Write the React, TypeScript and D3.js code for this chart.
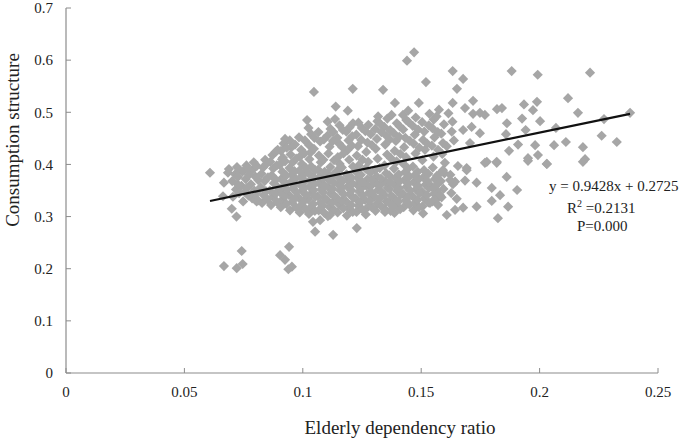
import * as d3 from 'd3';

// --- Data ---
const xTicks = [0, 0.05, 0.1, 0.15, 0.2, 0.25];
const yTicks = [0, 0.1, 0.2, 0.3, 0.4, 0.5, 0.6, 0.7];
const xTickLabels = ['0', '0.05', '0.1', '0.15', '0.2', '0.25'];
const yTickLabels = ['0', '0.1', '0.2', '0.3', '0.4', '0.5', '0.6', '0.7'];

const trendSlope = 0.9428;
const trendIntercept = 0.2725;
const trendRange = [0.0608, 0.2382];
const fitLines = ['y = 0.9428x + 0.2725', '=0.2131', 'P=0.000'];

const lowOutliers: [number, number][] = [
  [0.0667, 0.205], [0.0721, 0.201], [0.0746, 0.209], [0.0742, 0.234], [0.0904, 0.226],
  [0.0942, 0.242], [0.0925, 0.217], [0.0939, 0.199], [0.0954, 0.204],
];

const lowerEdge: [number, number][] = [
  [0.0608, 0.384], [0.0667, 0.365], [0.0684, 0.384], [0.0663, 0.339], [0.070, 0.315],
  [0.072, 0.300], [0.0688, 0.391], [0.0726, 0.376], [0.0805, 0.329], [0.1043, 0.290],
  [0.1052, 0.271], [0.1128, 0.265], [0.1228, 0.278], [0.1115, 0.303], [0.1073, 0.293],
  [0.1347, 0.309], [0.1381, 0.319], [0.1508, 0.306], [0.1537, 0.326],
];

const upperSpread: [number, number][] = [
  [0.147, 0.615], [0.144, 0.599], [0.152, 0.558], [0.1047, 0.539], [0.1211, 0.545],
  [0.1339, 0.543], [0.1389, 0.518], [0.149, 0.518], [0.1139, 0.511], [0.119, 0.503],
  [0.1018, 0.485], [0.1318, 0.492], [0.1375, 0.495], [0.1423, 0.495], [0.1212, 0.479],
  [0.1105, 0.482], [0.1136, 0.487], [0.0925, 0.449], [0.0894, 0.428], [0.0912, 0.410],
  [0.1445, 0.503], [0.1535, 0.497], [0.1575, 0.505], [0.1615, 0.498],
];

const rightTail: [number, number][] = [
  [0.1633, 0.579], [0.1882, 0.579], [0.1992, 0.572], [0.2213, 0.576], [0.1677, 0.564],
  [0.1651, 0.545], [0.1719, 0.522], [0.1633, 0.518], [0.212, 0.527], [0.1989, 0.520],
  [0.1934, 0.515], [0.1972, 0.504], [0.2162, 0.499], [0.2382, 0.499], [0.2272, 0.487],
  [0.182, 0.506], [0.1841, 0.508], [0.1862, 0.479], [0.1926, 0.488], [0.2002, 0.483],
  [0.2069, 0.470], [0.1941, 0.466], [0.1858, 0.458], [0.2262, 0.455], [0.2326, 0.443],
  [0.2111, 0.443], [0.2061, 0.437], [0.1981, 0.437], [0.1909, 0.438], [0.2183, 0.433],
  [0.1871, 0.426], [0.2192, 0.410], [0.1993, 0.418], [0.1951, 0.412], [0.2031, 0.401],
  [0.1819, 0.405], [0.1777, 0.405], [0.1861, 0.376], [0.1692, 0.393], [0.1655, 0.397],
  [0.1706, 0.441], [0.1748, 0.460], [0.1713, 0.472], [0.1677, 0.466], [0.1685, 0.508],
  [0.1748, 0.499], [0.1769, 0.495], [0.1719, 0.497], [0.1608, 0.435], [0.1571, 0.428],
  [0.160, 0.403], [0.1587, 0.386], [0.1692, 0.389], [0.1592, 0.389], [0.1734, 0.365],
  [0.1685, 0.369], [0.1643, 0.367], [0.1622, 0.370], [0.1798, 0.355], [0.1905, 0.351],
  [0.1833, 0.341], [0.1798, 0.330], [0.1867, 0.319], [0.1734, 0.319], [0.1677, 0.317],
  [0.1643, 0.313], [0.1608, 0.303], [0.1824, 0.297], [0.165, 0.334], [0.1579, 0.341],
  [0.1571, 0.322], [0.1558, 0.357], [0.1769, 0.403], [0.1819, 0.403], [0.1951, 0.407],
  [0.203, 0.401], [0.2183, 0.405],
];

const coreCluster: [number, number][] = [
  [0.0705, 0.338], [0.0718, 0.352], [0.0702, 0.368], [0.0714, 0.381], [0.0722, 0.395],
  [0.0748, 0.329], [0.0756, 0.347], [0.0741, 0.359], [0.0759, 0.372], [0.0745, 0.386], [0.0762, 0.398],
  [0.0786, 0.335], [0.0795, 0.350], [0.0781, 0.362], [0.0799, 0.377], [0.0788, 0.390], [0.0793, 0.404],
  [0.0828, 0.326], [0.0835, 0.341], [0.0822, 0.356], [0.0839, 0.368], [0.0826, 0.382], [0.0832, 0.394], [0.0841, 0.409],
  [0.0866, 0.322], [0.0874, 0.338], [0.0861, 0.350], [0.0878, 0.364], [0.0869, 0.379], [0.0875, 0.392], [0.0863, 0.405], [0.0872, 0.418],
  [0.0907, 0.318], [0.0915, 0.333], [0.0903, 0.347], [0.0918, 0.358], [0.0909, 0.372], [0.0914, 0.386], [0.0902, 0.399], [0.0916, 0.413], [0.0908, 0.426], [0.0919, 0.440],
  [0.0946, 0.312], [0.0955, 0.328], [0.0942, 0.341], [0.0958, 0.354], [0.0949, 0.366], [0.0953, 0.380], [0.0944, 0.393], [0.0957, 0.404], [0.0948, 0.419], [0.0952, 0.433], [0.0945, 0.446],
  [0.0987, 0.308], [0.0994, 0.322], [0.0983, 0.336], [0.0998, 0.349], [0.0989, 0.361], [0.0992, 0.375], [0.0985, 0.388], [0.0996, 0.401], [0.0988, 0.415], [0.0993, 0.428], [0.0984, 0.452],
  [0.1026, 0.305], [0.1034, 0.318], [0.1023, 0.333], [0.1038, 0.345], [0.1029, 0.357], [0.1032, 0.370], [0.1025, 0.383], [0.1036, 0.396], [0.1028, 0.410], [0.1033, 0.423], [0.1027, 0.437], [0.1035, 0.458], [0.1024, 0.470],
  [0.1067, 0.312], [0.1074, 0.326], [0.1063, 0.339], [0.1078, 0.352], [0.1069, 0.364], [0.1072, 0.377], [0.1065, 0.390], [0.1076, 0.404], [0.1068, 0.417], [0.1073, 0.444], [0.1066, 0.462],
  [0.1106, 0.301], [0.1114, 0.318], [0.1103, 0.331], [0.1118, 0.344], [0.1109, 0.356], [0.1112, 0.369], [0.1105, 0.382], [0.1116, 0.395], [0.1108, 0.421], [0.1113, 0.434], [0.1104, 0.455], [0.1117, 0.468],
  [0.1147, 0.308], [0.1154, 0.323], [0.1143, 0.336], [0.1158, 0.350], [0.1149, 0.362], [0.1152, 0.375], [0.1145, 0.388], [0.1156, 0.401], [0.1148, 0.414], [0.1153, 0.440], [0.1146, 0.451], [0.1155, 0.475],
  [0.1186, 0.302], [0.1194, 0.316], [0.1183, 0.329], [0.1198, 0.343], [0.1189, 0.357], [0.1192, 0.369], [0.1185, 0.381], [0.1196, 0.409], [0.1188, 0.427], [0.1193, 0.446], [0.1184, 0.463], [0.1197, 0.471],
  [0.1227, 0.309], [0.1234, 0.321], [0.1223, 0.335], [0.1238, 0.348], [0.1229, 0.361], [0.1232, 0.374], [0.1225, 0.386], [0.1236, 0.398], [0.1228, 0.417], [0.1233, 0.435], [0.1226, 0.457], [0.1235, 0.480],
  [0.1266, 0.304], [0.1274, 0.318], [0.1263, 0.332], [0.1278, 0.345], [0.1269, 0.359], [0.1272, 0.371], [0.1265, 0.392], [0.1276, 0.405], [0.1268, 0.424], [0.1273, 0.442], [0.1264, 0.464], [0.1277, 0.476],
  [0.1307, 0.311], [0.1314, 0.325], [0.1303, 0.338], [0.1318, 0.351], [0.1309, 0.364], [0.1312, 0.377], [0.1305, 0.389], [0.1316, 0.411], [0.1308, 0.430], [0.1313, 0.449], [0.1306, 0.468], [0.1315, 0.483],
  [0.1346, 0.315], [0.1354, 0.329], [0.1343, 0.342], [0.1358, 0.355], [0.1349, 0.367], [0.1352, 0.383], [0.1345, 0.398], [0.1356, 0.419], [0.1348, 0.438], [0.1353, 0.455], [0.1344, 0.472], [0.1357, 0.488],
  [0.1387, 0.307], [0.1394, 0.322], [0.1383, 0.336], [0.1398, 0.349], [0.1389, 0.361], [0.1392, 0.374], [0.1385, 0.392], [0.1396, 0.406], [0.1388, 0.426], [0.1393, 0.445], [0.1384, 0.460], [0.1397, 0.479],
  [0.1426, 0.318], [0.1434, 0.331], [0.1423, 0.344], [0.1438, 0.357], [0.1429, 0.370], [0.1432, 0.385], [0.1425, 0.401], [0.1436, 0.414], [0.1428, 0.433], [0.1433, 0.451], [0.1424, 0.467], [0.1437, 0.485],
  [0.1467, 0.312], [0.1474, 0.326], [0.1463, 0.339], [0.1478, 0.352], [0.1469, 0.366], [0.1472, 0.379], [0.1465, 0.396], [0.1476, 0.421], [0.1468, 0.440], [0.1473, 0.457], [0.1464, 0.474], [0.1477, 0.490],
  [0.1506, 0.320], [0.1514, 0.335], [0.1503, 0.348], [0.1518, 0.361], [0.1509, 0.375], [0.1512, 0.389], [0.1505, 0.408], [0.1516, 0.428], [0.1508, 0.447], [0.1513, 0.463], [0.1504, 0.481],
  [0.1547, 0.329], [0.1554, 0.344], [0.1543, 0.358], [0.1558, 0.372], [0.1549, 0.394], [0.1552, 0.415], [0.1545, 0.436], [0.1556, 0.452], [0.1548, 0.469], [0.1553, 0.486],
  [0.1586, 0.337], [0.1594, 0.353], [0.1583, 0.368], [0.1598, 0.383], [0.1589, 0.420], [0.1592, 0.441], [0.1585, 0.459], [0.1596, 0.477],
  [0.1627, 0.345], [0.1634, 0.362], [0.1623, 0.380], [0.1638, 0.446], [0.1629, 0.463], [0.1632, 0.482],
];

// points packed between the core columns, where the reference is solid grey
const denseBand: [number, number][] = [
  [0.0731, 0.345], [0.0725, 0.362], [0.0733, 0.389],
  [0.0771, 0.340], [0.0764, 0.355], [0.0772, 0.380], [0.0766, 0.393],
  [0.0811, 0.331], [0.0804, 0.345], [0.0812, 0.370], [0.0806, 0.397],
  [0.0851, 0.333], [0.0844, 0.349], [0.0853, 0.375], [0.0846, 0.401],
  [0.0891, 0.328], [0.0884, 0.344], [0.0893, 0.357], [0.0886, 0.371], [0.0890, 0.398], [0.0885, 0.424],
  [0.0931, 0.324], [0.0924, 0.339], [0.0933, 0.352], [0.0926, 0.365], [0.0930, 0.379], [0.0925, 0.406], [0.0932, 0.432],
  [0.0971, 0.318], [0.0964, 0.334], [0.0973, 0.347], [0.0966, 0.360], [0.0970, 0.373], [0.0965, 0.387], [0.0972, 0.411], [0.0967, 0.438],
  [0.1011, 0.315], [0.1004, 0.329], [0.1013, 0.342], [0.1006, 0.355], [0.1010, 0.368], [0.1005, 0.381], [0.1012, 0.394], [0.1007, 0.421], [0.1009, 0.446],
  [0.1051, 0.311], [0.1044, 0.324], [0.1053, 0.338], [0.1046, 0.351], [0.1050, 0.363], [0.1045, 0.376], [0.1052, 0.389], [0.1047, 0.430], [0.1049, 0.451],
  [0.1091, 0.307], [0.1084, 0.321], [0.1093, 0.335], [0.1086, 0.347], [0.1090, 0.360], [0.1085, 0.373], [0.1092, 0.386], [0.1087, 0.409], [0.1089, 0.448],
  [0.1131, 0.313], [0.1124, 0.327], [0.1133, 0.340], [0.1126, 0.353], [0.1130, 0.366], [0.1125, 0.379], [0.1132, 0.408], [0.1127, 0.445], [0.1129, 0.462],
  [0.1171, 0.316], [0.1164, 0.330], [0.1173, 0.343], [0.1166, 0.356], [0.1170, 0.369], [0.1165, 0.394], [0.1172, 0.421], [0.1167, 0.433], [0.1169, 0.466],
  [0.1211, 0.309], [0.1204, 0.322], [0.1213, 0.336], [0.1206, 0.350], [0.1210, 0.363], [0.1205, 0.375], [0.1212, 0.396], [0.1207, 0.436], [0.1209, 0.454],
  [0.1251, 0.314], [0.1244, 0.328], [0.1253, 0.341], [0.1246, 0.354], [0.1250, 0.367], [0.1245, 0.380], [0.1252, 0.409], [0.1247, 0.447], [0.1249, 0.470],
  [0.1291, 0.318], [0.1284, 0.331], [0.1293, 0.345], [0.1286, 0.358], [0.1290, 0.371], [0.1285, 0.384], [0.1292, 0.437], [0.1287, 0.458],
  [0.1331, 0.320], [0.1324, 0.334], [0.1333, 0.347], [0.1326, 0.360], [0.1330, 0.373], [0.1325, 0.393], [0.1332, 0.462], [0.1327, 0.478],
  [0.1371, 0.311], [0.1364, 0.327], [0.1373, 0.340], [0.1366, 0.353], [0.1370, 0.366], [0.1365, 0.379], [0.1372, 0.412], [0.1367, 0.448], [0.1369, 0.466],
  [0.1411, 0.314], [0.1404, 0.329], [0.1413, 0.342], [0.1406, 0.355], [0.1410, 0.368], [0.1405, 0.381], [0.1412, 0.420], [0.1407, 0.453], [0.1409, 0.473],
  [0.1451, 0.323], [0.1444, 0.337], [0.1453, 0.350], [0.1446, 0.363], [0.1450, 0.377], [0.1445, 0.392], [0.1452, 0.445], [0.1447, 0.481],
  [0.1491, 0.318], [0.1484, 0.332], [0.1493, 0.345], [0.1486, 0.359], [0.1490, 0.372], [0.1485, 0.386], [0.1492, 0.432], [0.1487, 0.467],
  [0.1531, 0.327], [0.1524, 0.341], [0.1533, 0.355], [0.1526, 0.368], [0.1530, 0.382], [0.1525, 0.440], [0.1532, 0.475],
  [0.1571, 0.336], [0.1564, 0.350], [0.1573, 0.364], [0.1566, 0.378], [0.1570, 0.462], [0.1565, 0.492],
];

const points = [...coreCluster, ...denseBand, ...lowerEdge, ...upperSpread, ...rightTail, ...lowOutliers];

// --- Layout ---
const width = 685;
const height = 439;
const left = 66;
const right = 658;
const top = 8;
const bottom = 373;
const axisColor = '#8c8c8c';
const pointColor = '#a6a6a6';
const font = '"Liberation Serif", "Times New Roman", serif';

export default function App() {
  const x = d3.scaleLinear().domain([0, 0.25]).range([left, right]);
  const y = d3.scaleLinear().domain([0, 0.7]).range([bottom, top]);

  const diamond = d3.symbol().type(d3.symbolSquare).size(52)();
  const trend = d3.line<number>()
    .x(d => x(d))
    .y(d => y(trendSlope * d + trendIntercept));

  return (
    <svg
      width={width}
      height={height}
      style={{ position: 'absolute', left: 0, top: 0, background: '#fff' }}
      fontFamily={font}
    >
      {/* axes */}
      <line x1={left} x2={left} y1={top} y2={bottom} stroke={axisColor} strokeWidth={1.2} />
      <line x1={left} x2={right} y1={bottom} y2={bottom} stroke={axisColor} strokeWidth={1.2} />
      {yTicks.map((t, i) => (
        <g key={'y' + i}>
          <line x1={left} x2={left + 5} y1={y(t)} y2={y(t)} stroke={axisColor} />
          <text x={left - 13} y={y(t)} dy="0.35em" textAnchor="end" fontSize={15} fill="#222">
            {yTickLabels[i]}
          </text>
        </g>
      ))}
      {xTicks.map((t, i) => (
        <g key={'x' + i}>
          <line x1={x(t)} x2={x(t)} y1={bottom} y2={bottom - 5} stroke={axisColor} />
          <text x={x(t)} y={bottom + 24} textAnchor="middle" fontSize={15} fill="#222">
            {xTickLabels[i]}
          </text>
        </g>
      ))}

      {/* points */}
      {points.map((d, i) => (
        <path
          key={i}
          d={diamond}
          fill={pointColor}
          transform={`translate(${x(d[0])},${y(d[1])}) rotate(45)`}
        />
      ))}

      {/* trend line */}
      <path d={trend(trendRange) || ''} fill="none" stroke="#111" strokeWidth={2.2} />

      {/* fit annotation */}
      <text x={549} y={191} fontSize={15} fill="#222">{fitLines[0]}</text>
      <text x={567} y={213} fontSize={15} fill="#222">
        R<tspan dy={-6} fontSize={10}>2</tspan>
        <tspan dy={6}> {fitLines[1]}</tspan>
      </text>
      <text x={577} y={231} fontSize={15} fill="#222">{fitLines[2]}</text>

      {/* axis titles */}
      <text x={400} y={434} textAnchor="middle" fontSize={19} fill="#222">Elderly dependency ratio</text>
      <text
        transform={`translate(19,140) rotate(-90)`}
        textAnchor="middle"
        fontSize={19}
        fill="#222"
      >
        Consumption structure
      </text>
    </svg>
  );
}
